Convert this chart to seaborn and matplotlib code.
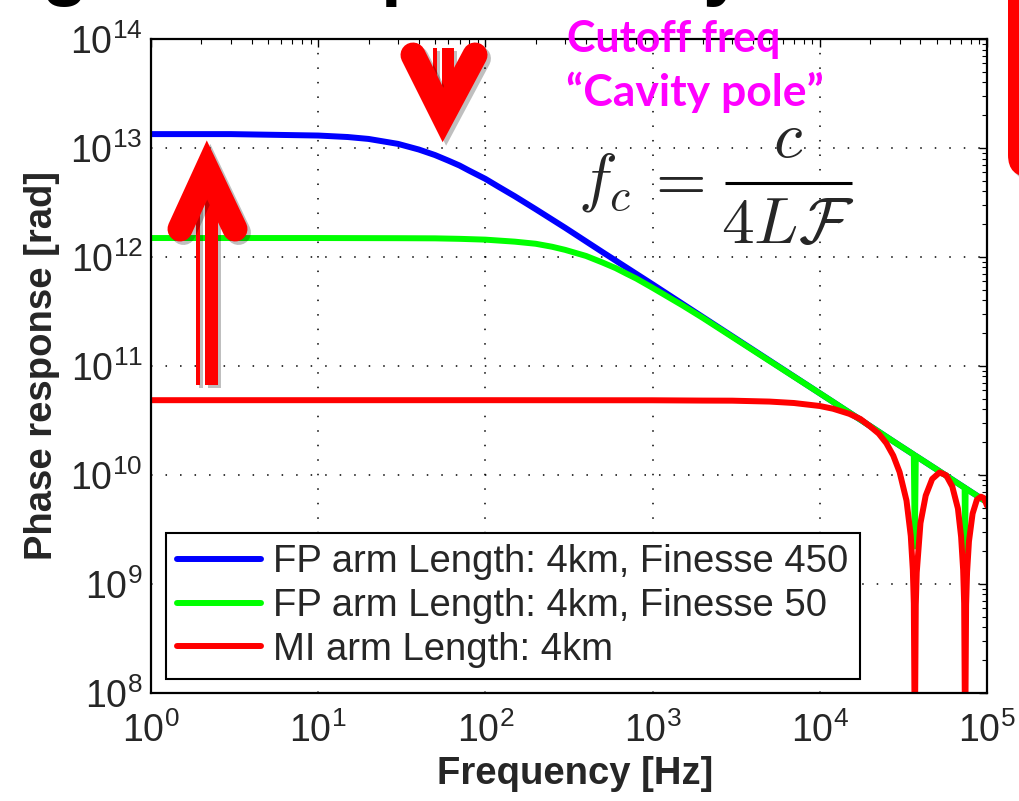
import numpy as np
import pandas as pd
import matplotlib
matplotlib.use("Agg")
import matplotlib.pyplot as plt
import matplotlib.patheffects as pe
from matplotlib.patches import Rectangle, FancyBboxPatch
from matplotlib.ticker import LogLocator
import seaborn as sns

# Dati (frequenza in Hz, risposta di fase in rad)
freq_fp450 = [1, 3, 10, 15, 20, 30, 40, 50, 60, 70, 80, 100, 120, 150, 200, 300, 500,
              1000, 2000, 5000, 1e4, 2e4, 3e4, 5e4, 7e4, 1e5]
resp_fp450 = [1.34e13, 1.34e13, 1.30e13, 1.26e13, 1.21e13, 1.09e13, 9.67e12, 8.6e12,
              7.65e12, 6.9e12, 6.19e12, 5.2e12, 4.4e12, 3.6e12, 2.74e12, 1.85e12,
              1.11e12, 5.6e11, 2.8e11, 1.12e11, 5.6e10, 2.8e10, 1.86e10, 1.12e10,
              8.0e9, 5.6e9]

freq_fp50 = [1, 10, 30, 50, 70, 100, 150, 200, 250, 300, 400, 500, 600, 700, 800,
             1000, 1500, 2000, 5000, 1e4, 2e4, 3e4, 3.65e4, 3.7e4, 3.75e4, 5e4,
             7.35e4, 7.4e4, 7.45e4, 1e5]
resp_fp50 = [1.49e12, 1.49e12, 1.485e12, 1.48e12, 1.465e12, 1.44e12, 1.38e12, 1.32e12,
             1.24e12, 1.16e12, 1.02e12, 8.9e11, 7.9e11, 7.0e11, 6.32e11, 5.2e11,
             3.61e11, 2.75e11, 1.11e11, 5.6e10, 2.8e10, 1.86e10, 1.53e10, 2.2e9,
             1.49e10, 1.12e10, 7.6e9, 2.0e9, 7.5e9, 5.6e9]

freq_mi = [1, 100, 1000, 2000, 3000, 5000, 7000, 1e4, 1.2e4, 1.5e4, 1.75e4, 2e4,
           2.25e4, 2.5e4, 2.75e4, 3e4, 3.3e4, 3.5e4, 3.6e4, 3.65e4, 3.7e4, 3.75e4,
           3.8e4, 4.0e4, 4.3e4, 4.7e4, 5.2e4, 5.7e4, 6.2e4, 6.7e4, 7.0e4, 7.2e4,
           7.3e4, 7.4e4, 7.5e4, 7.6e4, 7.8e4, 8.2e4, 8.7e4, 9.2e4, 9.6e4, 1e5]
resp_mi = [4.84e10, 4.84e10, 4.83e10, 4.8e10, 4.79e10, 4.7e10, 4.56e10, 4.28e10,
           4.04e10, 3.63e10, 3.25e10, 2.78e10, 2.39e10, 1.95e10, 1.5e10, 1.06e10,
           5.8e9, 2.75e9, 1.34e9, 6.6e8, 3e7, 6.4e8, 1.27e9, 3.6e9, 6.45e9, 9.15e9,
           1.05e10, 9.9e9, 7.8e9, 4.9e9, 2.7e9, 1.34e9, 6.6e8, 3e7, 6.4e8, 1.27e9,
           2.45e9, 4.4e9, 5.9e9, 6.3e9, 6.1e9, 5.2e9]

labels = ["FP arm Length: 4km, Finesse 450",
          "FP arm Length: 4km, Finesse 50",
          "MI arm Length: 4km"]
colori = ["#0000ff", "#00ff00", "#ff0000"]

# DataFrame unico per seaborn
df = pd.concat([
    pd.DataFrame({"freq": freq_fp450, "resp": resp_fp450, "serie": labels[0]}),
    pd.DataFrame({"freq": freq_fp50, "resp": resp_fp50, "serie": labels[1]}),
    pd.DataFrame({"freq": freq_mi, "resp": resp_mi, "serie": labels[2]}),
], ignore_index=True)

# Stile
sns.set_style("white")
plt.rcParams["font.family"] = ["Liberation Sans", "DejaVu Sans"]

fig = plt.figure(figsize=(10.19, 8.01), dpi=100)
ax = fig.add_axes([151 / 1019, 1 - 692.7 / 801, 836 / 1019, 653.7 / 801])

sns.lineplot(data=df, x="freq", y="resp", hue="serie", hue_order=labels,
             palette=colori, estimator=None, sort=False, linewidth=4.3, ax=ax)

ax.set_xscale("log")
ax.set_yscale("log")
ax.set_xlim(1, 1e5)
ax.set_ylim(1e8, 1e14)

# Griglia tratteggiata solo sulle decadi
ax.grid(True, which="major", color="k", linestyle=(0, (1, 8.5)), linewidth=1.1)
ax.xaxis.set_major_locator(LogLocator(base=10, numticks=10))
ax.yaxis.set_major_locator(LogLocator(base=10, numticks=10))
ax.xaxis.set_minor_locator(LogLocator(base=10, subs=np.arange(2, 10), numticks=20))
ax.yaxis.set_minor_locator(LogLocator(base=10, subs=np.arange(2, 10), numticks=20))

ax.tick_params(which="both", direction="in", top=True, right=True, color="k")
ax.tick_params(which="major", length=6, width=1.0, labelsize=27)
ax.tick_params(which="minor", length=3.5, width=0.8)
ax.tick_params(axis="y", which="major", pad=6)
ax.tick_params(axis="x", which="major", pad=14)

for s in ax.spines.values():
    s.set_color("k")
    s.set_linewidth(1.6)

# Etichette assi
ax.set_xlabel("Frequency [Hz]", fontsize=27.5, fontweight="bold")
ax.set_ylabel("Phase response [rad]", fontsize=27.5, fontweight="bold")
ax.xaxis.set_label_coords((575 - 151) / 836, (692.7 - 756) / 653.7)
ax.yaxis.set_label_coords((60 - 151) / 836, 0.5)

# Legenda
handles, _ = ax.get_legend_handles_labels()
leg = ax.legend(handles, labels, loc="lower left",
                bbox_to_anchor=((166 - 151) / 836, (692.7 - 679) / 653.7),
                borderaxespad=0, fontsize=27.5, frameon=True, fancybox=False,
                edgecolor="k", handlelength=2.2, handletextpad=0.3,
                labelspacing=0.2, borderpad=0.3)
leg.get_frame().set_linewidth(1.5)
leg.get_frame().set_alpha(1)
for h in leg.get_lines():
    h.set_linewidth(4.3)

# Livello sovrapposto in pixel per le annotazioni della slide
ov = fig.add_axes([0, 0, 1, 1], zorder=5)
ov.set_xlim(0, 1019)
ov.set_ylim(801, 0)
ov.axis("off")

ombra = [pe.SimpleLineShadow(offset=(2.5, -2.5), shadow_color="k", alpha=0.25), pe.Normal()]
ombra_p = [pe.SimplePatchShadow(offset=(2.5, -2.5), shadow_rgbFace="k", alpha=0.25), pe.Normal()]

# Freccia verso l'alto
for r in [Rectangle((205, 190), 13, 195), Rectangle((196, 198), 4, 187)]:
    r.set_facecolor("#ff0000")
    r.set_edgecolor("none")
    r.set_path_effects(ombra_p)
    ov.add_patch(r)
ov.plot([180, 207, 235], [229, 170, 229], color="#ff0000", linewidth=18,
        solid_capstyle="round", solid_joinstyle="miter", path_effects=ombra)

# Freccia verso il basso
for r in [Rectangle((442, 48), 12, 50), Rectangle((433, 48), 4, 45)]:
    r.set_facecolor("#ff0000")
    r.set_edgecolor("none")
    r.set_path_effects(ombra_p)
    ov.add_patch(r)
ov.plot([413, 443, 475], [55, 115, 55], color="#ff0000", linewidth=18,
        solid_capstyle="round", solid_joinstyle="miter", path_effects=ombra)

# Testo magenta
ov.text(567, 52, "Cutoff freq", color="#ff00ff", fontsize=31, fontweight="bold",
        family=["Lato", "DejaVu Sans"], ha="left", va="baseline")
ov.text(566, 106, "\u201cCavity pole\u201d", color="#ff00ff", fontsize=32,
        fontweight="bold", family=["Lato", "DejaVu Sans"], ha="left", va="baseline")

# Formula f_c = c / (4 L F), composta a pezzi per rispettare le spaziature
ov.text(578, 198, r"$f_c$", fontsize=47, math_fontfamily="cm", ha="left", va="baseline")
ov.text(674, 199, r"$=$", fontsize=47, math_fontfamily="cm", ha="center", va="baseline")
ov.plot([725, 852], [183, 183], color="k", linewidth=2.2, solid_capstyle="butt")
ov.text(788, 157, r"$c$", fontsize=47, math_fontfamily="cm", ha="center", va="baseline")
ov.text(788, 243, r"$4L\mathcal{F}$", fontsize=47, math_fontfamily="cm",
        ha="center", va="baseline")

# Frammenti del titolo della slide e riquadro rosso a destra
for x, ch in [(42, "g"), (380, "p"), (702, "y")]:
    ov.text(x, -8, ch, fontsize=54, fontweight="bold", ha="left", va="baseline", color="k")
box = FancyBboxPatch((1008, -60), 60, 237, boxstyle="round,pad=0,rounding_size=22",
                     facecolor="#ff0000", edgecolor="none", path_effects=ombra_p)
ov.add_patch(box)

plt.savefig("out.png", dpi=100)
